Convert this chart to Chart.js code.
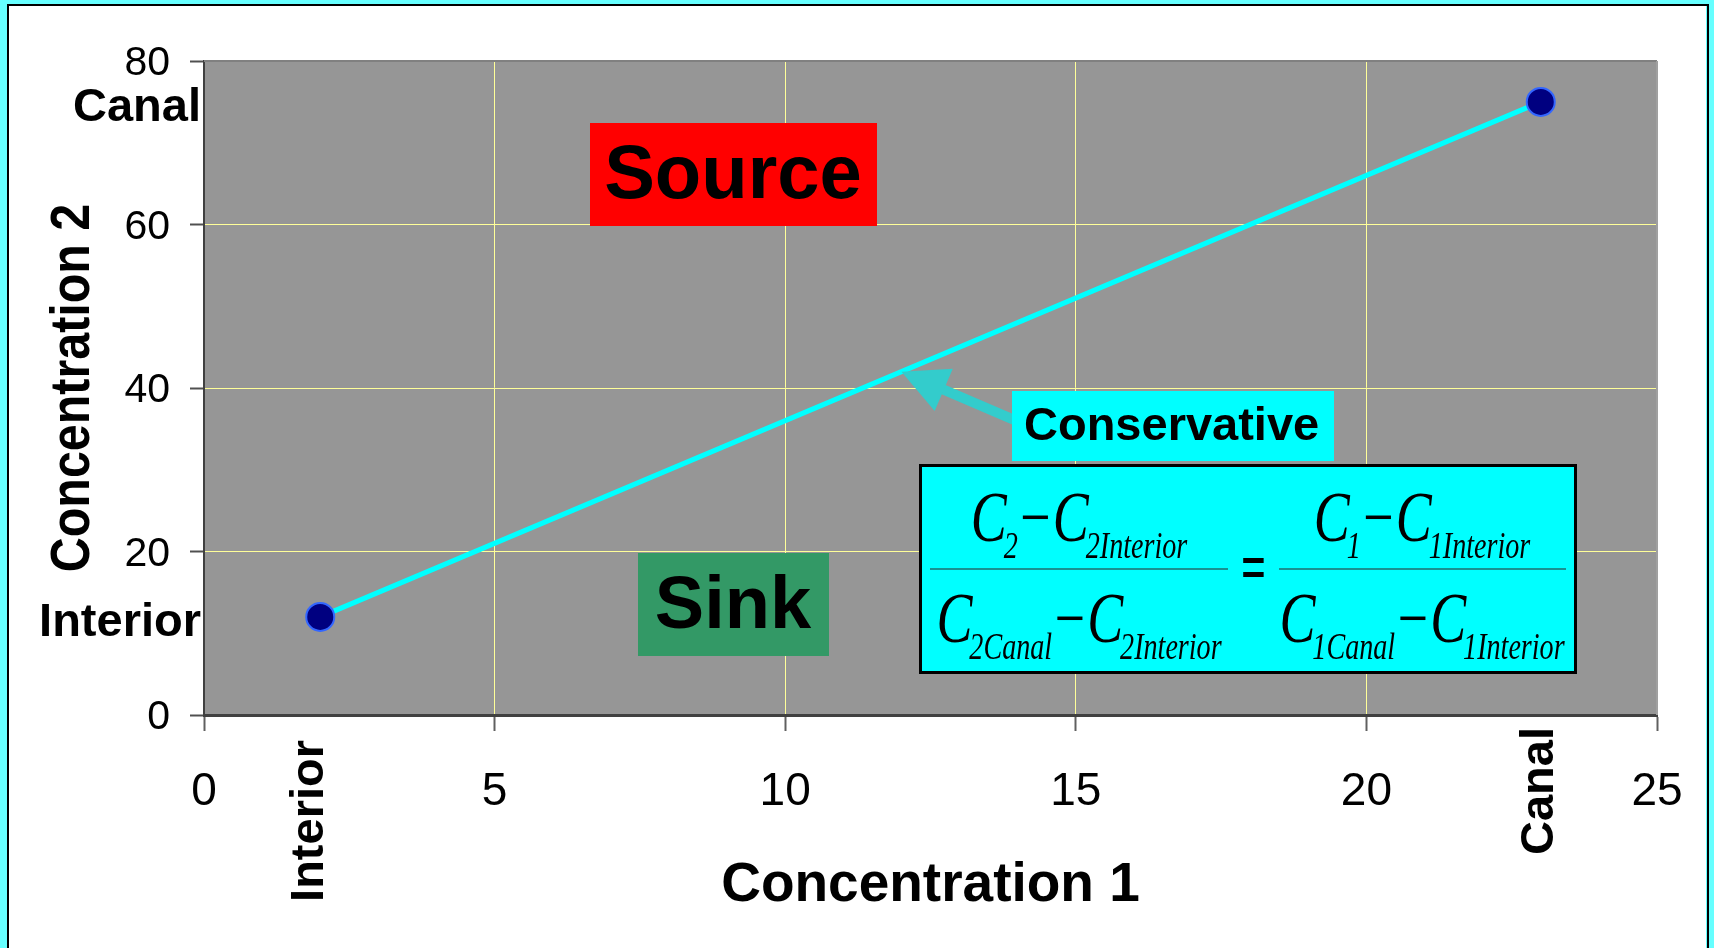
<!DOCTYPE html>
<html lang="en">
<head>
  <meta charset="UTF-8">
  <title>Concentration 1 vs Concentration 2</title>
  <script src="https://cdn.jsdelivr.net/npm/chart.js"></script>
  <style>
    html, body { margin: 0; padding: 0; background: #66FFFF; overflow: hidden; }
    canvas { display: block; }
  </style>
</head>
<body>
  <canvas id="chart" width="1714" height="948"></canvas>

<script>
  // Данные: две крайние точки смешения (Interior -> Canal)
  const conc1 = [2, 23];
  const conc2 = [12, 75];
  const endLabels = ['Interior', 'Canal'];
  const xTickValues = [0, 5, 10, 15, 20, 25];
  const yTickValues = [0, 20, 40, 60, 80];

  const SANS = '"Liberation Sans", Arial, sans-serif';
  const SERIF = '"Liberation Serif", "Times New Roman", serif';

  // Формула: дробь из "C" с нижними индексами
  function drawExpr(ctx, parts, cx, base, sx) {
    const fMain = 'italic 71px ' + SERIF;
    const fSub = 'italic 37px ' + SERIF;
    const fOp = '71px ' + SERIF;
    let w = 0;
    const items = parts.map(p => {
      if (p === '-') {
        ctx.font = fOp;
        const ww = ctx.measureText('\u2212').width + 6;
        w += ww;
        return { op: true, ww };
      }
      ctx.font = fMain;
      const mw = ctx.measureText('C').width - 4;
      ctx.font = fSub;
      const sw = ctx.measureText(p).width;
      w += mw + sw;
      return { sub: p, mw, sw };
    });
    ctx.save();
    ctx.translate(cx - w * sx / 2, base);
    ctx.scale(sx, 1);
    ctx.textAlign = 'left';
    ctx.textBaseline = 'alphabetic';
    let x = 0;
    items.forEach(it => {
      if (it.op) {
        ctx.font = fOp;
        ctx.fillText('\u2212', x + 3, 0);
        x += it.ww;
      } else {
        ctx.font = fMain;
        ctx.fillText('C', x, 0);
        ctx.font = fSub;
        ctx.fillText(it.sub, x + it.mw, 17);
        x += it.mw + it.sw;
      }
    });
    ctx.restore();
  }

  const framePlugin = {
    id: 'frame',
    beforeDraw(chart) {
      const { ctx, chartArea: a, width, height } = chart;
      ctx.save();
      ctx.fillStyle = '#66FFFF';
      ctx.fillRect(0, 0, width, height);
      ctx.fillStyle = '#FFFFFF';
      ctx.fillRect(8, 5, width - 16, height - 5);
      ctx.strokeStyle = '#000000';
      ctx.lineWidth = 2;
      ctx.beginPath();
      ctx.moveTo(8, height + 2);
      ctx.lineTo(8, 5);
      ctx.lineTo(width - 6, 5);
      ctx.lineTo(width - 6, height + 2);
      ctx.stroke();
      // фон области построения
      ctx.fillStyle = '#969696';
      ctx.fillRect(a.left, a.top, a.right - a.left, a.bottom - a.top);
      ctx.restore();
    },
    beforeDatasetsDraw(chart) {
      const { ctx, chartArea: a } = chart;
      ctx.save();
      ctx.lineWidth = 2;
      ctx.strokeStyle = '#808080';
      ctx.beginPath();
      ctx.moveTo(a.left, a.top);
      ctx.lineTo(a.right, a.top);
      ctx.stroke();
      ctx.strokeStyle = '#A0A0A0';
      ctx.beginPath();
      ctx.moveTo(a.right, a.top);
      ctx.lineTo(a.right, a.bottom);
      ctx.stroke();
      ctx.restore();
    }
  };

  const annotationsPlugin = {
    id: 'annotations',
    afterDraw(chart) {
      const { ctx, chartArea: a } = chart;
      const xs = chart.scales.x;
      const ys = chart.scales.y;
      ctx.save();
      ctx.fillStyle = '#000000';

      // подписи концов на оси Y
      ctx.font = 'bold 47px ' + SANS;
      ctx.textAlign = 'right';
      ctx.textBaseline = 'alphabetic';
      endLabels.forEach((t, i) => {
        ctx.fillText(t, a.left - 3, ys.getPixelForValue(conc2[i]) + 19);
      });

      // повернутые подписи концов на оси X
      const rotShift = [[3, 25], [12, 12]];
      endLabels.forEach((t, i) => {
        ctx.save();
        ctx.translate(xs.getPixelForValue(conc1[i]) + rotShift[i][0], a.bottom + rotShift[i][1]);
        ctx.rotate(-Math.PI / 2);
        ctx.textAlign = 'right';
        ctx.fillText(t, 0, 0);
        ctx.restore();
      });

      // заголовок оси Y (сжатый)
      ctx.save();
      ctx.translate(89, (a.top + a.bottom) / 2);
      ctx.rotate(-Math.PI / 2);
      ctx.scale(0.88, 1);
      ctx.font = 'bold 55px ' + SANS;
      ctx.textAlign = 'center';
      ctx.fillText('Concentration 2', 0, 0);
      ctx.restore();

      // Source
      ctx.fillStyle = '#FF0000';
      ctx.fillRect(590, 123, 287, 103);
      ctx.fillStyle = '#000000';
      ctx.font = 'bold 76px ' + SANS;
      ctx.textAlign = 'center';
      ctx.fillText('Source', 733, 198);

      // Sink
      ctx.fillStyle = '#339966';
      ctx.fillRect(638, 553, 191, 103);
      ctx.fillStyle = '#000000';
      ctx.font = 'bold 74px ' + SANS;
      ctx.fillText('Sink', 733, 628);

      // стрелка к линии смешения
      const tipX = xs.getPixelForValue(12);
      const tipY = ys.getPixelForValue(42);
      const tailX = tipX + 112;
      const tailY = tipY + 48;
      const ang = Math.atan2(tipY - tailY, tipX - tailX);
      const headLen = 46;
      const headHalf = 23;
      const bx = tipX - Math.cos(ang) * headLen;
      const by = tipY - Math.sin(ang) * headLen;
      ctx.strokeStyle = '#33CCCC';
      ctx.fillStyle = '#33CCCC';
      ctx.lineWidth = 10;
      ctx.lineCap = 'round';
      ctx.beginPath();
      ctx.moveTo(tailX, tailY);
      ctx.lineTo(bx + Math.cos(ang) * 4, by + Math.sin(ang) * 4);
      ctx.stroke();
      ctx.beginPath();
      ctx.moveTo(tipX, tipY);
      ctx.lineTo(bx - Math.sin(ang) * headHalf, by + Math.cos(ang) * headHalf);
      ctx.lineTo(bx + Math.sin(ang) * headHalf, by - Math.cos(ang) * headHalf);
      ctx.closePath();
      ctx.fill();

      // Conservative
      ctx.fillStyle = '#00FFFF';
      ctx.fillRect(1012, 391, 322, 70);
      ctx.fillStyle = '#000000';
      ctx.font = 'bold 47px ' + SANS;
      ctx.textAlign = 'left';
      ctx.fillText('Conservative', 1024, 440);

      // рамка формулы
      ctx.fillStyle = '#00FFFF';
      ctx.fillRect(920, 465, 656, 208);
      ctx.strokeStyle = '#000000';
      ctx.lineWidth = 3;
      ctx.lineCap = 'butt';
      ctx.strokeRect(920.5, 465.5, 655, 207);

      // черты дробей
      ctx.strokeStyle = '#1F6F6F';
      ctx.lineWidth = 1.5;
      ctx.beginPath();
      ctx.moveTo(930, 569); ctx.lineTo(1228, 569);
      ctx.moveTo(1279, 569); ctx.lineTo(1566, 569);
      ctx.stroke();

      ctx.fillStyle = '#000000';
      drawExpr(ctx, ['2', '-', '2Interior'], 1079, 541, 0.76);
      drawExpr(ctx, ['2Canal', '-', '2Interior'], 1079, 642, 0.76);
      drawExpr(ctx, ['1', '-', '1Interior'], 1422, 541, 0.76);
      drawExpr(ctx, ['1Canal', '-', '1Interior'], 1422, 642, 0.76);

      ctx.save();
      ctx.translate(1253.5, 591);
      ctx.scale(0.62, 1);
      ctx.font = 'bold 71px ' + SERIF;
      ctx.textAlign = 'center';
      ctx.fillText('=', 0, 0);
      ctx.restore();

      ctx.restore();
    }
  };

  const points = conc1.map((v, i) => ({ x: v, y: conc2[i] }));

  new Chart(document.getElementById('chart').getContext('2d'), {
    type: 'scatter',
    data: {
      datasets: [{
        label: 'Conservative',
        data: points,
        showLine: true,
        borderColor: '#00FFFF',
        borderWidth: 5,
        pointRadius: 14,
        pointHoverRadius: 14,
        pointBackgroundColor: '#000080',
        pointBorderColor: '#3366FF',
        pointBorderWidth: 2
      }]
    },
    options: {
      responsive: false,
      animation: false,
      devicePixelRatio: 1,
      layout: { padding: { top: 61, right: 57, left: 0, bottom: 0 } },
      plugins: {
        legend: { display: false },
        tooltip: { enabled: false }
      },
      scales: {
        x: {
          type: 'linear',
          min: 0,
          max: 25,
          afterBuildTicks: s => { s.ticks = xTickValues.map(v => ({ value: v })); },
          afterFit: s => { s.height = 233; },
          grid: { color: '#FFFF99', lineWidth: 1, tickLength: 16, tickColor: '#606060', tickWidth: 2 },
          border: { color: '#404040', width: 3 },
          ticks: {
            color: '#000000',
            font: { family: SANS, size: 46, lineHeight: 1.3 },
            padding: 31,
            maxRotation: 0,
            autoSkip: false
          },
          title: {
            display: true,
            text: 'Concentration 1',
            color: '#000000',
            font: { family: SANS, size: 55, weight: 'bold' },
            padding: { top: 0, bottom: 29 }
          }
        },
        y: {
          type: 'linear',
          min: 0,
          max: 80,
          afterBuildTicks: s => { s.ticks = yTickValues.map(v => ({ value: v })); },
          afterFit: s => { s.width = 204; },
          grid: { color: '#FFFF99', lineWidth: 1, tickLength: 14, tickColor: '#505050', tickWidth: 2 },
          border: { color: '#404040', width: 2 },
          ticks: {
            color: '#000000',
            font: { family: SANS, size: 41 },
            padding: 20,
            labelOffset: 3
          }
        }
      }
    },
    plugins: [framePlugin, annotationsPlugin]
  });
</script>
</body>
</html>
